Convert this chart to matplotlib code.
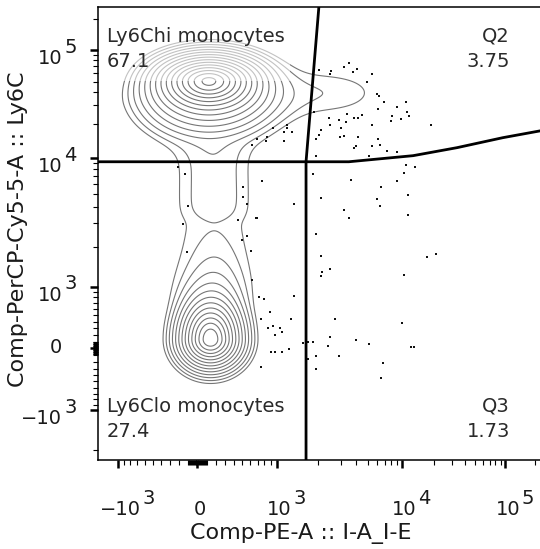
import numpy as np
import matplotlib
matplotlib.use('Agg')
import matplotlib.pyplot as plt
from matplotlib.patches import Polygon
from matplotlib.transforms import offset_copy

# channel ranges of the plot
x_min, x_max = -1405, 262144
y_min, y_max = -2383, 262144

# biexponential display parameters (scale, shape) for each axis
x_biex = (76.5, 5.0)
y_biex = (118.8, 4.5)

# tick values and labels
major_ticks = [-1000, 0, 1000, 10000, 100000]
tick_base = ['\u221210', '0', '10', '10', '10']
tick_exp = ['3', '', '3', '4', '5']

# population density components: centre (channel values), spreads (display units),
# peak height, profile ('hyp' = sharp peak with exponential tails, 'gau' = gaussian)
# and the power used along y (2 = normal, larger = flat-topped ridge)
comp_name = ['Ly6Chi', 'Ly6Chi base', 'Q2 tail', 'bridge', 'hi stem', 'lo stem', 'Ly6Clo']
comp_x = [123, 120, 2470, 177, 177, 188, 140]
comp_y = [50640, 30000, 39200, 3028, 6427, 923, 132]
comp_sx = [0.31, 0.90, 1.10, 0.85, 0.50, 0.40, 0.20]
comp_sy_up = [0.155, 0.40, 0.45, 1.57, 0.74, 0.67, 0.27]
comp_sy_dn = [0.18, 0.50, 0.45, 1.57, 0.74, 0.67, 0.18]
comp_h = [1.0, 0.042, 0.0078, 0.0076, 0.004, 0.006, 0.6]
comp_kind = ['hyp', 'gau', 'gau', 'gau', 'gau', 'gau', 'hyp']
comp_pow = [2, 2, 2, 6, 6, 2, 2]

# outlier events drawn as dots
out_x = [2050, 2520, 2470, 3190, 3510, 3750, 4040, 5470, 4930, 6040, 6270, 6970, 10900, 9040,
         11200, 11700, 6090, 8140, 8020, 9740, 5470, 4440, 4160, 3870, 3390, 3310, 2910, 2430,
         1880, 2470, 2120, 2050, 1940, 3000, 3210, 2970, 4160, 3990, 3870, 6090, 6320, 5470,
         7350, 9040, 5090, 1940, 18600,
         1200, 1200, 1130, 1300, 940, 840, 690, 820, 1130, 620,
         10900, 13100, 10500, 9090, 6490, 11300, 6040, 6320, 11300, 1830, 3620, 2120, 3190, 3510,
         1940, 2120, 17200, 20800, 10500, 2470, 2170, 2100,
         2730, 10100, 4010, 5090, 2400, 2460, 2890, 1940, 1940, 6540, 6780, 12100, 13050, 1700,
         1570, 1700, 1830,
         770, 506, 506, 556, 1350, 679, 690, 445, 556, 493, 606, 624, 719, 798, 1350, 879, 748,
         1270, 854, 940, 1060, 1100, 969, 901, 969, 1100, 1235, 748,
         -213, -134, -96, -152, -116]
out_y = [64100, 63000, 59700, 69700, 75400, 61800, 66600, 59700, 49400, 38600, 36300, 32200, 32200, 28600,
         25700, 23700, 27800, 23700, 21500, 22300, 19700, 24500, 23100, 22800, 24900, 21200, 22100, 23100,
         25700, 19900, 17700, 15900, 14800, 18400, 15800, 15500, 15200, 12800, 12300, 14800, 13100, 12800,
         11500, 11400, 10400, 10400, 19900,
         19700, 18400, 17000, 17000, 18600, 15500, 14800, 14200, 14200, 12900,
         8680, 8460, 7510, 6390, 5770, 4920, 4560, 4060, 3460, 7340, 6560, 4680, 3790, 3250,
         2490, 1730, 1690, 1790, 1250, 1380, 1300, 1210,
         440, 383, 117, 69, 40, 172, -113, -113, -300, -438, -217, 15, 15, -162,
         73, 92, 92,
         6350, 5770, 4740, 4200, 4200, 3260, 3260, 3170, 2420, 2260, 1860, 1140, 800, 762, 828, 555, 439,
         439, 307, 331, 307, 247, 202, -59, -59, -59, -10, -271,
         8340, 7340, 4030, 2960, 1840]

# quadrant gate
gate_v_x = [1640, 1640, 2040]
gate_v_y = [y_min, 9300, y_max]
gate_h_x = [x_min, 3480, 12700, 33400, 94600, 221800, x_max]
gate_h_y = [9300, 9300, 10500, 12340, 15140, 17420, 17900]

quad_names = ['Ly6Chi monocytes', 'Q2', 'Ly6Clo monocytes', 'Q3']
quad_pcts = ['67.1', '3.75', '27.4', '1.73']


def biex_funcs(scale, p):
    """Forward/inverse biexponential transform built from a dense lookup table."""
    u = np.linspace(-16, 16, 64001)
    a = np.abs(u)
    s = np.sign(u) * scale * (np.exp(a) - p ** 2 * np.exp(-a / p) + p ** 2 - 1)
    return (lambda v: np.interp(v, s, u)), (lambda v: np.interp(v, u, s))


fx, ix = biex_funcs(*x_biex)
fy, iy = biex_funcs(*y_biex)

fig = plt.figure(figsize=(5.4, 5.49), dpi=100)
W, H = 540, 549
ax = fig.add_axes([98 / W, 1 - 460 / H, 449 / W, 453 / H])
ax.set_xscale('function', functions=(fx, ix))
ax.set_yscale('function', functions=(fy, iy))
ax.set_xlim(x_min, x_max)
ax.set_ylim(y_min, y_max)

# density on a grid regular in display space
ux = np.linspace(fx(x_min), fx(x_max), 800)
uy = np.linspace(fy(y_min), fy(y_max), 800)
UX, UY = np.meshgrid(ux, uy)
dens = np.zeros_like(UX)
for i in range(len(comp_x)):
    dx = (UX - fx(comp_x[i])) / comp_sx[i]
    dy = UY - fy(comp_y[i])
    dy = np.abs(dy / np.where(dy > 0, comp_sy_up[i], comp_sy_dn[i]))
    q = dx ** 2 + dy ** comp_pow[i]
    if comp_kind[i] == 'hyp':
        dens += comp_h[i] * np.exp(-(np.sqrt(1 + q) - 1))
    else:
        dens += comp_h[i] * np.exp(-0.5 * q)

levels = np.geomspace(0.006, 0.9, 15)
split_x, split_y = 1250, 50600
dark_clip = Polygon([(x_min, y_min), (x_max, y_min), (x_max, y_max), (split_x, y_max),
                     (split_x, split_y), (x_min, split_y)], transform=ax.transData)
light_clip = Polygon([(x_min, split_y), (split_x, split_y), (split_x, y_max), (x_min, y_max)],
                     transform=ax.transData)
cs = ax.contour(ix(UX), iy(UY), dens, levels=levels, colors='#767676', linewidths=0.8)
cs.set_clip_path(dark_clip)
cs2 = ax.contour(ix(UX), iy(UY), dens, levels=levels, colors='#c2c2c2', linewidths=0.8)
cs2.set_clip_path(light_clip)

ax.scatter(out_x, out_y, s=2.2, c='#111111', marker='s', linewidths=0, zorder=3)

ax.plot(gate_v_x, gate_v_y, color='black', lw=2.0, zorder=4)
ax.plot(gate_h_x, gate_h_y, color='black', lw=2.0, zorder=4)

# quadrant names and percentages
txt = dict(fontsize=14, color='#2a2a2a')
def axfrac(px, py):
    return (px - 98) / 449, (460 - py) / 453
for name, pct, (px, py, ha) in zip(quad_names, quad_pcts,
                                   [(107, 42, 'left'), (510, 42, 'right'),
                                    (107, 412, 'left'), (510, 412, 'right')]):
    ax.text(*axfrac(px, py), name, ha=ha, va='baseline', transform=ax.transAxes, **txt)
    ax.text(*axfrac(px, py + 25), pct, ha=ha, va='baseline', transform=ax.transAxes, **txt)

# ticks
minor = []
for d in [10, 100, 1000, 10000, 100000]:
    for k in range(1, 10):
        for v in (k * d, -k * d):
            if v not in major_ticks and v not in minor:
                minor.append(v)
for axis, lo, hi in [(ax.xaxis, x_min, x_max), (ax.yaxis, y_min, y_max)]:
    axis.set_ticks(major_ticks)
    axis.set_ticks([v for v in minor if lo < v < hi], minor=True)
ax.tick_params(which='major', direction='out', length=6, width=1.8, color='black',
               labelbottom=False, labelleft=False)
ax.tick_params(which='minor', direction='out', length=3.5, width=0.8, color='black')
for side in ['top', 'left', 'bottom']:
    ax.spines[side].set_linewidth(1.1)
ax.spines['right'].set_visible(False)

lab = dict(fontsize=14, color='#1a1a1a')
xt = ax.get_xaxis_transform()
yt = ax.get_yaxis_transform()
for v, base, ex in zip(major_ticks, tick_base, tick_exp):
    # x axis label
    t = ax.text(v, -55 / 453, base, ha='center', va='baseline',
                transform=offset_copy(xt, fig=fig, x=2.5, units='dots'), **lab)
    if ex:
        ax.annotate(ex, xy=(1, 0.8), xycoords=t, xytext=(1, 0), textcoords='offset points',
                    ha='left', va='baseline', **lab)
    # y axis label
    dy = -14 if ex else -5
    t = ax.text(-36 / 449, v, base, ha='right', va='baseline',
                transform=offset_copy(yt, fig=fig, y=dy, units='dots'), **lab)
    if ex:
        ax.annotate(ex, xy=(1, 0.8), xycoords=t, xytext=(1.5, 0), textcoords='offset points',
                    ha='left', va='baseline', **lab)

axlab = dict(fontsize=16, color='#1a1a1a')
fig.text(301 / W, 1 - 539 / H, 'Comp-PE-A :: I-A_I-E', ha='center', va='baseline', **axlab)
fig.text(18 / W, 1 - 229 / H, 'Comp-PerCP-Cy5-5-A :: Ly6C', ha='center', va='center',
         rotation=90, **axlab)

fig.savefig('out.png', dpi=100)
